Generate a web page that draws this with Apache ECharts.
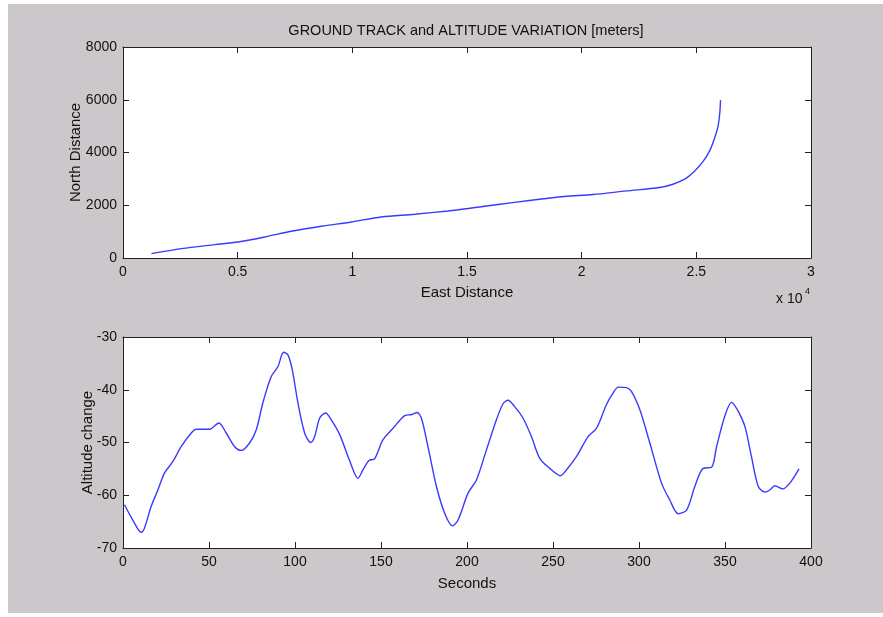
<!DOCTYPE html>
<html>
<head>
<meta charset="utf-8">
<script src="https://cdn.jsdelivr.net/npm/echarts@6/dist/echarts.min.js"></script>
<style>
  html, body { margin: 0; padding: 0; background: #ffffff; }
  #chart { width: 883px; height: 617px; }
</style>
</head>
<body>
<div id="chart"></div>
<script>
// ground track (meters)
var eastDist  = [1240, 2550, 4000, 5010, 6180, 7340, 8650, 9960, 11260, 12720, 14170, 15040, 16350, 17800, 19250, 20490, 21940, 23400, 23980, 24490, 24920, 25280, 25580, 25790, 25940, 26020, 26055];
var northDist = [167, 357, 508, 607, 797, 1013, 1203, 1366, 1556, 1658, 1784, 1875, 2027, 2190, 2330, 2406, 2543, 2672, 2797, 2987, 3290, 3643, 4061, 4531, 4972, 5480, 5985];

// altitude change vs time
var seconds  = [0.9, 5.7, 10.6, 12.5, 16.4, 20.3, 24.1, 29, 33.8, 39.7, 42.6, 50.3, 55.7, 60, 64.9, 68.8, 73.6, 77.5, 81.3, 86.2, 90.1, 93.4, 95.9, 98.4, 101.7, 105.6, 109.1, 111.4, 114.3, 117.8, 121.1, 126, 131.6, 136.6, 139.5, 143, 146.3, 151.1, 157, 163.8, 167.7, 170.9, 173.5, 177.3, 182.2, 187, 191.5, 194.8, 200.6, 205.5, 211.3, 217.1, 220.9, 223.8, 227.7, 232.6, 237.5, 242.3, 248.1, 254.3, 257.8, 263.6, 270.4, 275.3, 281.1, 285, 287.9, 292.7, 295.6, 300.5, 306.3, 313.1, 317.9, 322.8, 327.7, 332.5, 337.3, 342.2, 345.1, 350, 353.8, 357.7, 361.6, 365.4, 369.3, 373.2, 376.1, 379, 383.5, 387.7, 393];
var altitude = [-61.8, -64.7, -67.0, -66.2, -62.1, -59.0, -55.8, -53.6, -50.8, -48.2, -47.5, -47.5, -46.3, -48.2, -50.8, -51.5, -50.1, -47.6, -42.5, -37.5, -35.6, -32.9, -33.4, -36.2, -42.5, -48.2, -50.0, -48.9, -45.4, -44.4, -45.7, -48.5, -53.3, -56.8, -55.2, -53.4, -53.1, -49.5, -47.3, -44.9, -44.7, -44.3, -45.4, -50.8, -58.3, -63.4, -65.8, -64.7, -59.6, -57.1, -51.4, -45.7, -42.7, -42.0, -43.2, -45.4, -48.9, -53.0, -54.9, -56.3, -55.2, -52.7, -48.9, -47.3, -42.8, -40.6, -39.5, -39.6, -40.3, -43.8, -50.1, -57.7, -60.9, -63.5, -62.8, -58.3, -54.9, -54.7, -50.8, -44.9, -42.4, -44.1, -47.0, -52.7, -58.3, -59.4, -59.0, -58.2, -58.8, -57.7, -55.0];

var FONT = '"Liberation Sans", Arial, sans-serif';
var LINE_BLUE = '#3a3aff';
var AXIS_COLOR = '#222222';

function zip(a, b) {
  var out = [];
  for (var i = 0; i < a.length; i++) out.push([a[i], b[i]]);
  return out;
}

function boxAxis(gridIndex, position, min, max, interval, extra) {
  var ax = {
    type: 'value',
    gridIndex: gridIndex,
    position: position,
    min: min,
    max: max,
    interval: interval,
    nameMoveOverlap: false,
    axisLine: { show: true, onZero: false, lineStyle: { color: AXIS_COLOR, width: 1 } },
    axisTick: { show: true, inside: true, length: 6, lineStyle: { color: AXIS_COLOR, width: 1 } },
    axisLabel: { show: false },
    splitLine: { show: false }
  };
  for (var k in extra) ax[k] = extra[k];
  return ax;
}

var labelStyle = { show: true, color: '#111', fontSize: 14, fontFamily: FONT, margin: 6,
  formatter: function (v) { return String(v); } };
var nameStyle = { color: '#111', fontSize: 15, fontFamily: FONT };

var chart = echarts.init(document.getElementById('chart'));
var option = {
  backgroundColor: '#ffffff',
  animation: false,
  graphic: [
    { type: 'rect', z: -100, shape: { x: 8, y: 4, width: 875, height: 609 }, style: { fill: '#cbc7cb' } },
    { type: 'text', x: 466, y: 31, style: { text: 'GROUND TRACK and ALTITUDE VARIATION [meters]', textAlign: 'center', textVerticalAlign: 'middle', fill: '#111', font: '14.5px ' + FONT } },
    { type: 'text', x: 776, y: 299, style: { text: 'x 10', textAlign: 'left', textVerticalAlign: 'middle', fill: '#111', font: '14px ' + FONT } },
    { type: 'text', x: 805, y: 292, style: { text: '4', textAlign: 'left', textVerticalAlign: 'middle', fill: '#111', font: '9px ' + FONT } }
  ],
  grid: [
    { left: 123, top: 47, width: 688, height: 211, show: true, backgroundColor: '#ffffff', borderWidth: 0 },
    { left: 123, top: 337, width: 688, height: 211, show: true, backgroundColor: '#ffffff', borderWidth: 0 }
  ],
  xAxis: [
    boxAxis(0, 'bottom', 0, 30000, 5000, {
      axisLabel: { show: true, color: '#111', fontSize: 14, fontFamily: FONT, margin: 7,
        formatter: function (v) { return String(v / 10000); } },
      name: 'East Distance', nameLocation: 'middle', nameGap: 27, nameTextStyle: nameStyle
    }),
    boxAxis(0, 'top', 0, 30000, 5000, {}),
    boxAxis(1, 'bottom', 0, 400, 50, {
      axisLabel: { show: true, color: '#111', fontSize: 14, fontFamily: FONT, margin: 7 },
      name: 'Seconds', nameLocation: 'middle', nameGap: 28, nameTextStyle: nameStyle
    }),
    boxAxis(1, 'top', 0, 400, 50, {})
  ],
  yAxis: [
    boxAxis(0, 'left', 0, 8000, 2000, {
      axisLabel: labelStyle,
      name: 'North Distance', nameLocation: 'middle', nameGap: 40, nameTextStyle: nameStyle
    }),
    boxAxis(0, 'right', 0, 8000, 2000, {}),
    boxAxis(1, 'left', -70, -30, 10, {
      axisLabel: labelStyle,
      name: 'Altitude change', nameLocation: 'middle', nameGap: 28, nameTextStyle: nameStyle
    }),
    boxAxis(1, 'right', -70, -30, 10, {})
  ],
  series: [
    {
      type: 'line',
      xAxisIndex: 0,
      yAxisIndex: 0,
      data: zip(eastDist, northDist),
      showSymbol: false,
      smooth: 0.3,
      lineStyle: { color: LINE_BLUE, width: 1.4 }
    },
    {
      type: 'line',
      xAxisIndex: 2,
      yAxisIndex: 2,
      data: zip(seconds, altitude),
      showSymbol: false,
      smooth: 0.3,
      lineStyle: { color: LINE_BLUE, width: 1.4 }
    }
  ]
};
chart.setOption(option);
</script>
</body>
</html>
